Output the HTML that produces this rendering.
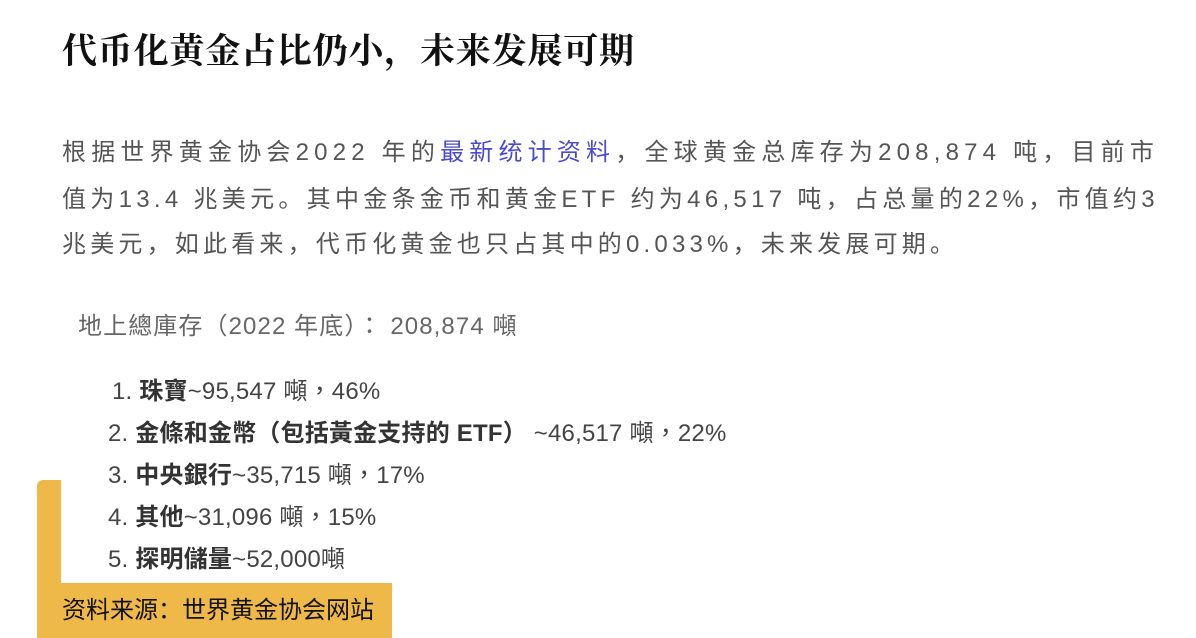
<!DOCTYPE html>
<html><head><meta charset="utf-8">
<style>
body{margin:0;width:1196px;height:638px;background:#fff;position:relative;overflow:hidden}
.t{position:absolute;white-space:nowrap}
#title{left:62px;top:24px;font:bold 35px "Liberation Serif","Noto Serif CJK SC",serif;color:#111;letter-spacing:0.8px}
.pl{position:absolute;left:62px;font:24px "Liberation Sans","Noto Sans CJK SC",sans-serif;color:#555;white-space:nowrap;letter-spacing:4.2px}
.pl a{color:#4a4acc;text-decoration:none}
.img{font-family:"Liberation Sans","Noto Sans CJK TC",sans-serif;color:#444;font-size:24px;letter-spacing:0.2px}
.img b{color:#333}
#ybar{position:absolute;left:37px;top:480px;width:24px;height:158px;background:#efb94a;border-top-left-radius:6px}
#ybox{position:absolute;left:37px;top:583px;width:355px;height:55px;background:#efb94a}
#src{left:62px;top:590px;font:24px "Liberation Sans","Noto Sans CJK SC",sans-serif;color:#111;letter-spacing:0px}
</style></head><body>
<div class="t" id="title">代币化黄金占比仍小，未来发展可期</div>
<div class="pl" style="top:132px;letter-spacing:5.2px">根据世界黄金协会2022 年的<a href="#">最新统计资料</a>，全球黄金总库存为208,874 吨，目前市</div>
<div class="pl" style="top:179px;letter-spacing:4.3px">值为13.4 兆美元。其中金条金币和黄金ETF 约为46,517 吨，占总量的22%，市值约3</div>
<div class="pl" style="top:224px">兆美元，如此看来，代币化黄金也只占其中的0.033%，未来发展可期。</div>
<div class="t img" style="left:78px;top:306px;color:#666;letter-spacing:1.1px">地上總庫存（2022 年底）： 208,874 噸</div>
<div class="t img" style="left:112px;top:371px">1. <b>珠寶</b>~95,547 噸，46%</div>
<div class="t img" style="left:108px;top:413px">2. <b>金條和金幣（包括黃金支持的 ETF）</b> ~46,517 噸，22%</div>
<div class="t img" style="left:108px;top:455px">3. <b>中央銀行</b>~35,715 噸，17%</div>
<div class="t img" style="left:108px;top:497px">4. <b>其他</b>~31,096 噸，15%</div>
<div class="t img" style="left:108px;top:539px">5. <b>探明儲量</b>~52,000噸</div>
<div id="ybar"></div>
<div id="ybox"></div>
<div class="t" id="src">资料来源：世界黄金协会网站</div>
</body></html>
